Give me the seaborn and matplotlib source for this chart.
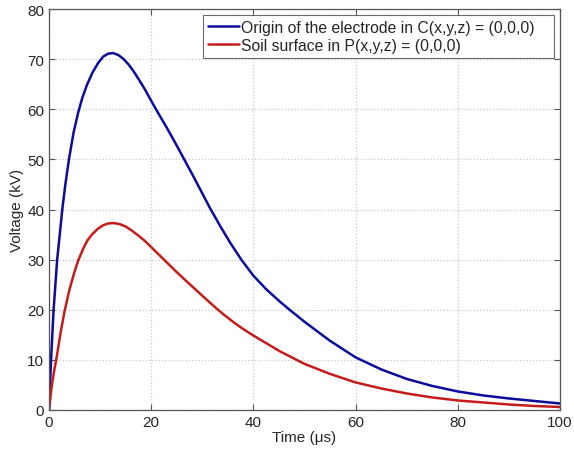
import matplotlib

matplotlib.use("Agg")
import matplotlib.pyplot as plt
import pandas as pd
import seaborn as sns

# values
blue_label = "Origin of the electrode in C(x,y,z) = (0,0,0)"
blue_t = [0, 0.4, 0.9, 1.6, 2.6, 3.2, 3.9, 4.8, 5.7, 6.5, 7.4, 8.5, 9.6, 10.6,
          11.6, 12.6, 13.6, 14.6, 15.6, 16.6, 17.6, 18.8, 20.1, 21.5, 23, 24.6,
          26.3, 28, 29.7, 31.5, 33.5, 35.5, 37.7, 40, 42.5, 45.2, 47.2, 50, 55,
          60, 65, 70, 75, 80, 85, 90, 95, 100]
blue_v = [0, 10, 20, 30, 40, 45, 50, 55.3, 59.3, 62.2, 64.8, 67.3, 69.2, 70.5,
          71.1, 71.2, 70.8, 70.0, 68.9, 67.5, 65.9, 63.9, 61.5, 59.0, 56.4, 53.5,
          50.3, 47.1, 43.8, 40.3, 36.7, 33.3, 29.9, 26.8, 24.1, 21.6, 19.9, 17.6, 13.8,
          10.5, 8.1, 6.2, 4.8, 3.7, 2.9, 2.3, 1.8, 1.3]

red_label = "Soil surface in P(x,y,z) = (0,0,0)"
red_t = [0, 0.5, 1.0, 1.5, 2.2, 3.0, 4.0, 5.0, 5.7, 6.7, 7.5, 8.4, 9.5, 10.5,
         11.5, 12.6, 13.8, 15, 16.2, 17.5, 18.8, 20, 22.7, 25, 27, 30, 32.5, 34,
         36, 38, 40, 45.2, 50, 55, 60, 65, 70, 75, 80, 85, 90, 95, 100]
red_v = [0, 4.5, 7.8, 10.5, 15, 19.5, 24, 27.6, 29.8, 32.2, 33.8, 35.0, 36.1, 36.8,
         37.2, 37.3, 37.1, 36.6, 35.8, 34.8, 33.7, 32.5, 29.8, 27.5, 25.6, 22.8, 20.5, 19.2,
         17.6, 16.15, 14.85, 11.7, 9.2, 7.2, 5.5, 4.3, 3.3, 2.5, 1.9, 1.5, 1.1, 0.8, 0.6]

x_ticks = [0, 20, 40, 60, 80, 100]
y_ticks = [0, 10, 20, 30, 40, 50, 60, 70, 80]

df = pd.concat([
    pd.DataFrame({"t": blue_t, "v": blue_v, "series": blue_label}),
    pd.DataFrame({"t": red_t, "v": red_v, "series": red_label}),
])

sns.set_style("ticks")
plt.rcParams["font.family"] = ["Liberation Sans", "DejaVu Sans"]

fig = plt.figure(figsize=(5.74, 4.52), dpi=100)
ax = fig.add_axes([49 / 574, 1 - 411 / 452, 511 / 574, 401 / 452])

sns.lineplot(data=df, x="t", y="v", hue="series", sort=False,
             palette={blue_label: "#0c0c9c", red_label: "#c41c1c"},
             linewidth=1.8, ax=ax)

ax.set_xlim(0, 100)
ax.set_ylim(0, 80)
ax.set_xticks(x_ticks)
ax.set_yticks(y_ticks)
ax.grid(True, color="#c8c8c8", linestyle=":", linewidth=0.9)
ax.tick_params(direction="in", top=True, right=True, labelsize=11,
               color="#555555", length=4)
for s in ax.spines.values():
    s.set_color("#555555")
    s.set_linewidth(0.9)

ax.set_xlabel("Time (\u03bcs)", fontsize=11, labelpad=1)
ax.set_ylabel("Voltage (kV)", fontsize=11, labelpad=2)

# MATLAB-style legend box, wider than its text
leg = ax.legend(loc="upper left", bbox_to_anchor=(0.3014, 0.878, 0.687, 0.107),
                mode="expand", borderaxespad=0, fontsize=11.3, frameon=True,
                fancybox=False, edgecolor="#444444", borderpad=0.3,
                handlelength=2.0, handletextpad=0.13, labelspacing=0.2)
leg.get_frame().set_linewidth(0.8)
leg.set_title(None)

fig.savefig("out.png", dpi=100)
